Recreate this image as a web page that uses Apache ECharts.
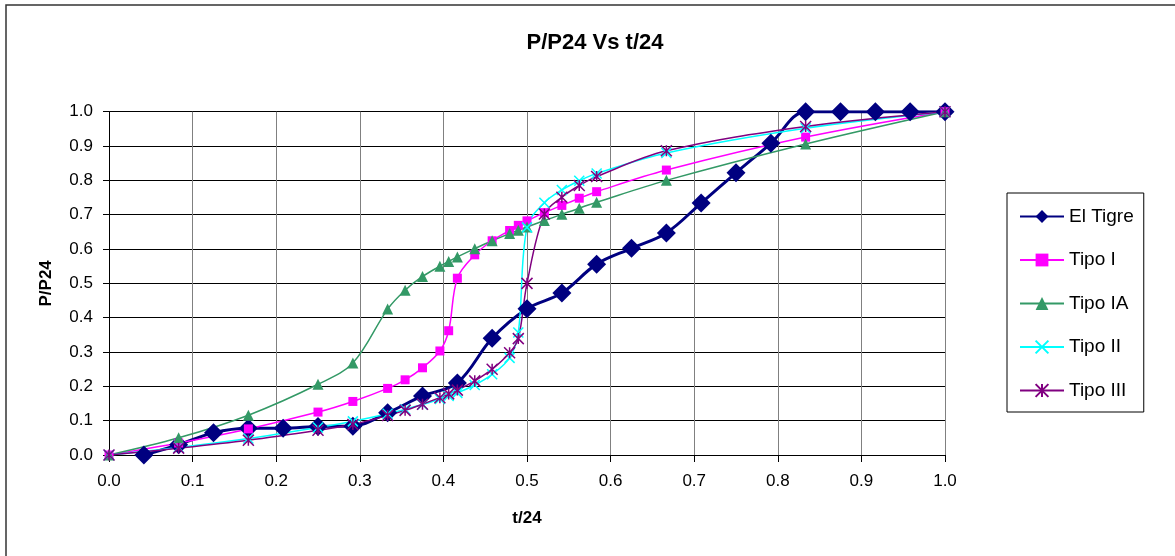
<!DOCTYPE html>
<html>
<head>
<meta charset="utf-8">
<script src="https://cdn.jsdelivr.net/npm/echarts@6/dist/echarts.min.js"></script>
<style>
html,body{margin:0;padding:0;background:#fff;}
#chart{width:1175px;height:556px;}
</style>
</head>
<body>
<div id="chart"></div>
<script>
// t/24 for the SCS distributions (hours 0,2,4,6,7,8,8.5,9,9.5,9.75,10,10.5,11,11.5,11.75,12,12.5,13,13.5,14,16,20,24)
var tScs = [0, 0.0833, 0.1667, 0.25, 0.2917, 0.3333, 0.3542, 0.375, 0.3958, 0.4063, 0.4167, 0.4375, 0.4583, 0.4792, 0.4896, 0.5, 0.5208, 0.5417, 0.5625, 0.5833, 0.6667, 0.8333, 1.0];
var tipoI   = [0, 0.035, 0.076, 0.125, 0.156, 0.194, 0.219, 0.254, 0.303, 0.362, 0.515, 0.583, 0.624, 0.654, 0.669, 0.682, 0.706, 0.727, 0.748, 0.767, 0.830, 0.926, 1.0];
var tipoIA  = [0, 0.050, 0.116, 0.206, 0.268, 0.425, 0.480, 0.520, 0.550, 0.564, 0.577, 0.601, 0.624, 0.645, 0.655, 0.664, 0.683, 0.701, 0.719, 0.736, 0.800, 0.906, 1.0];
var tipoII  = [0, 0.022, 0.048, 0.080, 0.098, 0.120, 0.133, 0.147, 0.163, 0.172, 0.181, 0.204, 0.235, 0.283, 0.357, 0.663, 0.735, 0.772, 0.799, 0.820, 0.880, 0.952, 1.0];
var tipoIII = [0, 0.020, 0.043, 0.072, 0.089, 0.115, 0.130, 0.148, 0.167, 0.178, 0.189, 0.216, 0.250, 0.298, 0.339, 0.500, 0.702, 0.751, 0.785, 0.811, 0.886, 0.957, 1.0];

// El Tigre, hourly
var tTigre = [0.0417, 0.0833, 0.125, 0.1667, 0.2083, 0.25, 0.2917, 0.3333, 0.375, 0.4167, 0.4583, 0.5, 0.5417, 0.5833, 0.625, 0.6667, 0.7083, 0.75, 0.7917, 0.8333, 0.875, 0.9167, 0.9583, 1.0];
var elTigre = [0, 0.030, 0.065, 0.078, 0.078, 0.083, 0.084, 0.123, 0.172, 0.210, 0.340, 0.426, 0.472, 0.556, 0.602, 0.647, 0.734, 0.822, 0.908, 1.0, 1.0, 1.0, 1.0, 1.0];

var seriesNames = ['El Tigre', 'Tipo I', 'Tipo IA', 'Tipo II', 'Tipo III'];

function pairs(xs, ys) { return xs.map(function (x, i) { return [x, ys[i]]; }); }

var FONT = 'Liberation Sans, Arial, sans-serif';
var chart = echarts.init(document.getElementById('chart'), null, {renderer: 'canvas'});

var option = {
  animation: false,
  backgroundColor: '#fff',
  title: {
    text: 'P/P24 Vs t/24',
    left: 590, top: 27, textAlign: 'center',
    textStyle: {fontFamily: FONT, fontSize: 22, fontWeight: 'bold', color: '#000'}
  },
  graphic: [{
    type: 'rect', silent: true,
    shape: {x: 6, y: 5, width: 1300, height: 700},
    style: {fill: 'none', stroke: '#333', lineWidth: 1.5}
  }],
  legend: {
    orient: 'vertical',
    left: 1007, top: 193,
    padding: [14, 10, 12, 12],
    itemWidth: 44, itemHeight: 16, itemGap: 24.5,
    borderColor: '#000', borderWidth: 1,
    textStyle: {fontFamily: FONT, fontSize: 19, color: '#000'},
    data: seriesNames
  },
  grid: {left: 109, right: 230, top: 111.7, bottom: 101, containLabel: false},
  xAxis: {
    type: 'value', min: 0, max: 1, interval: 0.1,
    name: 't/24', nameLocation: 'middle', nameGap: 55,
    nameTextStyle: {fontFamily: FONT, fontSize: 17, fontWeight: 'bold', color: '#000'},
    axisLine: {show: true, lineStyle: {color: '#000', width: 1}},
    axisTick: {show: true, inside: false, length: 7, lineStyle: {color: '#000'}},
    axisLabel: {fontFamily: FONT, fontSize: 17, color: '#000', margin: 18,
      formatter: function (v) { return v.toFixed(1); }},
    splitLine: {show: true, lineStyle: {color: '#808080', width: 1}}
  },
  yAxis: {
    type: 'value', min: 0, max: 1, interval: 0.1,
    name: 'P/P24', nameLocation: 'middle', nameGap: 54, nameRotate: 90,
    nameTextStyle: {fontFamily: FONT, fontSize: 17, fontWeight: 'bold', color: '#000'},
    axisLine: {show: true, lineStyle: {color: '#000', width: 1}},
    axisTick: {show: true, inside: false, length: 6, lineStyle: {color: '#000'}},
    axisLabel: {fontFamily: FONT, fontSize: 17, color: '#000', margin: 16,
      formatter: function (v) { return v.toFixed(1); }},
    splitLine: {show: true, lineStyle: {color: '#000', width: 1}}
  },
  series: [
    {
      name: 'El Tigre', type: 'line', smooth: 0.35,
      data: pairs(tTigre, elTigre),
      symbol: 'diamond', symbolSize: 19,
      lineStyle: {color: '#000080', width: 3},
      itemStyle: {color: '#000080'},
      emphasis: {disabled: true}
    },
    {
      name: 'Tipo I', type: 'line', smooth: 0.35,
      data: pairs(tScs, tipoI),
      symbol: 'rect', symbolSize: 9,
      lineStyle: {color: '#FF00FF', width: 1.5},
      itemStyle: {color: '#FF00FF'},
      emphasis: {disabled: true}
    },
    {
      name: 'Tipo IA', type: 'line', smooth: 0.35,
      data: pairs(tScs, tipoIA),
      symbol: 'triangle', symbolSize: 11,
      lineStyle: {color: '#339966', width: 1.5},
      itemStyle: {color: '#339966'},
      emphasis: {disabled: true}
    },
    {
      name: 'Tipo II', type: 'line', smooth: 0.35,
      data: pairs(tScs, tipoII),
      symbol: 'path://M0,0L10,10M10,0L0,10', symbolSize: 10, symbolKeepAspect: true,
      lineStyle: {color: '#00FFFF', width: 1.5},
      itemStyle: {color: 'rgba(0,0,0,0)', borderColor: '#00FFFF', borderWidth: 1.5},
      emphasis: {disabled: true}
    },
    {
      name: 'Tipo III', type: 'line', smooth: 0.35,
      data: pairs(tScs, tipoIII),
      symbol: 'path://M0,0L10,10M10,0L0,10M5,0L5,10', symbolSize: 11, symbolKeepAspect: true,
      lineStyle: {color: '#800080', width: 1.5},
      itemStyle: {color: 'rgba(0,0,0,0)', borderColor: '#800080', borderWidth: 1.5},
      emphasis: {disabled: true}
    }
  ]
};
chart.setOption(option);
</script>
</body>
</html>
